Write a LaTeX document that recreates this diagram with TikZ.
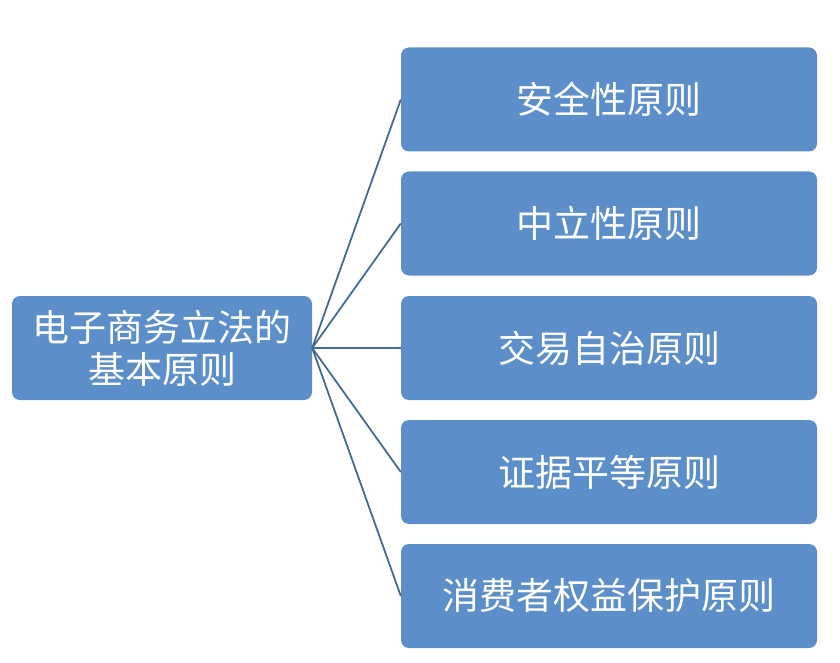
\documentclass[tikz,border=0pt]{standalone}
\usepackage{fontspec}
\newfontfamily\cjk{Noto Sans CJK SC}
\definecolor{boxfill}{RGB}{92,143,202}
\definecolor{linecol}{RGB}{70,106,150}
\begin{document}
\begin{tikzpicture}[x=1pt,y=-1pt,
  pbox/.style={draw=none,fill=boxfill,rounded corners=8pt,minimum width=416pt,minimum height=104pt,inner sep=0pt,text=white,font=\cjk\fontsize{37}{42}\selectfont,align=center},
  rootbox/.style={pbox,minimum width=300pt},
  conn/.style={draw=linecol,line width=1.8pt}]
\useasboundingbox (0,0) rectangle (840,663);
\node[rootbox] (root) at (162,348) {电子商务立法的\\基本原则};
\node[pbox] (a) at (609,99.5) {安全性原则};
\node[pbox] (b) at (609,223.5) {中立性原则};
\node[pbox] (c) at (609,348) {交易自治原则};
\node[pbox] (d) at (609,472) {证据平等原则};
\node[pbox] (e) at (609,596) {消费者权益保护原则};
\foreach \t in {a,b,c,d,e} \draw[conn] (root.east) -- (\t.west);
\end{tikzpicture}
\end{document}
